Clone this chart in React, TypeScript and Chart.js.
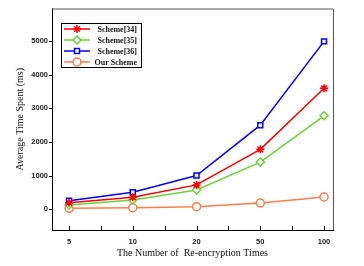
import React, { useEffect, useRef } from "react";
import { Chart, registerables } from "chart.js";
import { drawPoint } from "chart.js/helpers";

Chart.register(...registerables);

const categories = ["5", "10", "20", "50", "100"];
const seriesNames = ["Scheme[34]", "Scheme[35]", "Scheme[36]", "Our Scheme"];
const scheme34 = [190, 350, 720, 1780, 3600];
const scheme35 = [120, 270, 570, 1400, 2780];
const scheme36 = [250, 500, 1000, 2500, 5000];
const ourScheme = [20, 40, 70, 180, 360];
const yTicks = [0, 1000, 2000, 3000, 4000, 5000];

const colors = ["#ff0000", "#6fd13a", "#0000ff", "#ff7f4a"];
const styles = ["star", "rectRot", "rect", "circle"];
const radii = [4, 4, 3.5, 4];
const allSeries = [scheme34, scheme35, scheme36, ourScheme];

const framePlugin = {
  id: "framePlugin",
  afterDraw(chart: any) {
    const { ctx, chartArea } = chart;
    const { left, right, top, bottom } = chartArea;
    ctx.save();
    // top & right frame
    ctx.strokeStyle = "#555";
    ctx.lineWidth = 1;
    ctx.beginPath();
    ctx.moveTo(left, top + 0.5);
    ctx.lineTo(right + 0.5, top + 0.5);
    ctx.lineTo(right + 0.5, bottom);
    ctx.stroke();
    // x ticks inward
    ctx.strokeStyle = "#000";
    const xs = chart.scales.x;
    ctx.beginPath();
    for (let v = 1; v <= 5.001; v += 0.5) {
      const px = Math.round(xs.getPixelForValue(v)) + 0.5;
      ctx.moveTo(px, bottom);
      ctx.lineTo(px, bottom - 4);
    }
    ctx.stroke();
    // y ticks outward
    const ys = chart.scales.y;
    ctx.beginPath();
    for (const v of yTicks) {
      const py = Math.round(ys.getPixelForValue(v)) + 0.5;
      ctx.moveTo(left, py);
      ctx.lineTo(left - 3, py);
    }
    ctx.stroke();
    // legend
    const bx = 61, by = 23, bw = 80, bh = 44;
    ctx.fillStyle = "#fff";
    ctx.fillRect(bx, by, bw, bh);
    ctx.strokeStyle = "#000";
    ctx.lineWidth = 1;
    ctx.strokeRect(bx + 0.5, by + 0.5, bw, bh);
    ctx.font = "bold 8px 'Liberation Serif'";
    ctx.textAlign = "right";
    ctx.textBaseline = "middle";
    for (let i = 0; i < seriesNames.length; i++) {
      const y = by + 6 + i * 11;
      ctx.strokeStyle = colors[i];
      ctx.lineWidth = 1.5;
      ctx.beginPath();
      ctx.moveTo(64, y);
      ctx.lineTo(90, y);
      ctx.stroke();
      ctx.fillStyle = i === 0 ? colors[i] : "#fff";
      drawPoint(ctx, { pointStyle: styles[i], radius: radii[i], borderWidth: 1.5, rotation: 0 } as any, 77, y);
      ctx.fillStyle = "#111";
      ctx.fillText(seriesNames[i], 137, y + 0.5);
    }
    ctx.restore();
  },
};

export default function App() {
  const ref = useRef<HTMLCanvasElement>(null);
  useEffect(() => {
    document.body.style.margin = "0";
    const datasets = allSeries.map((s, i) => ({
      label: seriesNames[i],
      data: s.map((v, j) => ({ x: j + 1, y: v })),
      borderColor: colors[i],
      backgroundColor: i === 0 ? colors[i] : "#fff",
      pointStyle: styles[i],
      pointRadius: radii[i],
      pointBorderWidth: 1.5,
      borderWidth: 1.5,
      pointBorderColor: colors[i],
      tension: 0,
    }));
    const chart = new Chart(ref.current!, {
      type: "line",
      data: { datasets },
      plugins: [framePlugin],
      options: {
        animation: false,
        responsive: false,
        layout: { padding: { left: 0, right: 31, top: 8, bottom: 0 } },
        plugins: { legend: { display: false }, tooltip: { enabled: false } },
        scales: {
          x: {
            type: "linear",
            min: 0.733,
            max: 5.141,
            afterBuildTicks: (s: any) => {
              s.ticks = [1, 2, 3, 4, 5].map((v) => ({ value: v }));
            },
            afterFit: (s: any) => {
              s.height = 36;
            },
            grid: { display: false, drawTicks: false },
            border: { display: true, color: "#000", width: 1 },
            ticks: {
              padding: 7,
              color: "#222",
              font: { family: "'Liberation Sans'", size: 7.5, weight: "bold" },
              callback: (v: any) => categories[Math.round(Number(v)) - 1] ?? "",
              maxRotation: 0,
              autoSkip: false,
            },
            title: {
              display: true,
              text: "The Number of  Re-encryption Times",
              color: "#111",
              font: { family: "'Liberation Serif'", size: 10 },
              padding: { top: 0, bottom: 7 },
            },
          },
          y: {
            type: "linear",
            min: -625,
            max: 5980,
            afterBuildTicks: (s: any) => {
              s.ticks = yTicks.map((v) => ({ value: v }));
            },
            afterFit: (s: any) => {
              s.width = 52;
            },
            grid: { display: false, drawTicks: false },
            border: { display: true, color: "#000", width: 1 },
            ticks: {
              padding: 4,
              color: "#222",
              font: { family: "'Liberation Sans'", size: 7.5, weight: "bold" },
              callback: (v: any) => String(v),
            },
            title: {
              display: true,
              text: "Average Time Spent (ms)",
              color: "#111",
              font: { family: "'Liberation Serif'", size: 10 },
              padding: { top: 14, bottom: 0 },
            },
          },
        },
      } as any,
    });
    return () => chart.destroy();
  }, []);
  return <canvas ref={ref} width={364} height={266} style={{ display: "block" }} />;
}
